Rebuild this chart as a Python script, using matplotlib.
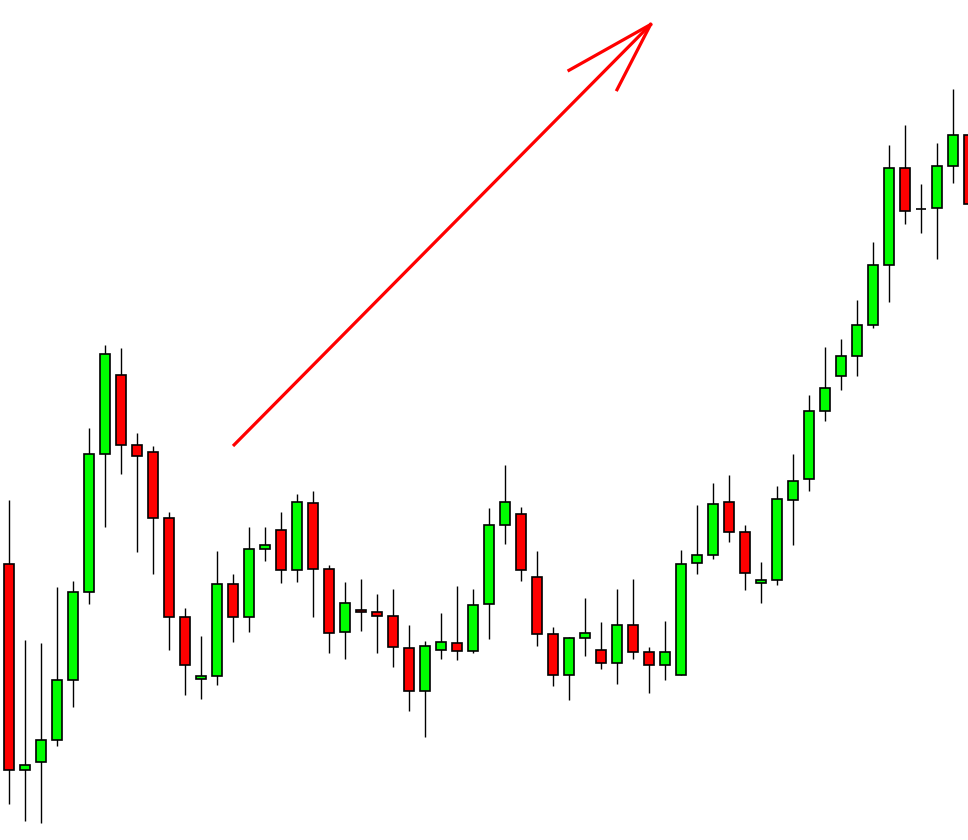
import numpy as np
import matplotlib
matplotlib.use("Agg")
import matplotlib.pyplot as plt

# candle values (arbitrary price units)
opens = [276, 70, 78, 100, 160, 248, 386, 465, 395, 388, 322, 223, 161, 164, 256, 223,
         291, 310, 270, 337, 271, 208, 230, 228, 224, 192, 149, 190, 197, 189, 236, 315,
         326, 263, 206, 165, 202, 190, 177, 215, 188, 175, 165, 277, 285, 338, 308, 257,
         260, 340, 361, 429, 464, 484, 515, 575, 672, 631, 632, 674, 705]
highs = [340, 200, 197, 253, 259, 412, 495, 492, 407, 394, 328, 232, 204, 289, 266, 313,
         313, 328, 346, 349, 275, 258, 261, 246, 251, 215, 199, 227, 254, 251, 332, 375,
         333, 289, 213, 203, 242, 218, 251, 261, 193, 219, 290, 335, 357, 365, 315, 278,
         354, 386, 445, 493, 501, 540, 598, 695, 715, 656, 697, 751, 715]
lows = [36, 19, 17, 94, 133, 236, 313, 366, 288, 266, 190, 145, 141, 155, 198, 208,
        279, 257, 258, 223, 187, 181, 209, 187, 173, 129, 103, 181, 180, 187, 201, 296,
        259, 194, 154, 140, 184, 171, 156, 181, 147, 160, 165, 266, 281, 298, 250, 237,
        255, 295, 349, 419, 450, 464, 512, 538, 616, 607, 581, 657, 626]
closes = [70, 75, 100, 160, 248, 386, 486, 395, 384, 322, 223, 175, 164, 256, 223, 291,
          295, 270, 338, 271, 207, 237, 228, 224, 193, 149, 194, 198, 189, 235, 315, 338,
          270, 206, 165, 202, 207, 177, 215, 188, 175, 188, 276, 285, 336, 308, 267, 260,
          341, 359, 429, 452, 484, 515, 575, 672, 629, 631, 674, 705, 636]

# trend arrow: shaft start, tip, and the two barb ends (candle index, price)
arrow_start = (14.0, 394)
arrow_tip = (40.1, 815.5)
barb_left = (35.0, 769.7)
barb_right = (38.0, 750.3)

o = np.array(opens)
h = np.array(highs)
l = np.array(lows)
c = np.array(closes)
x = np.arange(len(o))

colors = np.where(c > o, '#00ff00', np.where(c < o, '#ff0000', 'black'))

fig = plt.figure(figsize=(9.68, 8.4), dpi=100)
ax = fig.add_axes([0, 0, 1, 1])

ax.vlines(x, l, h, color='black', linewidth=1.0, zorder=1)
ax.bar(x, np.abs(c - o), bottom=np.minimum(o, c), width=0.625,
       color=colors, edgecolor='black', linewidth=1.2, zorder=2)

red = '#ff0000'
ax.plot([arrow_start[0], arrow_tip[0]], [arrow_start[1], arrow_tip[1]], color=red, lw=2.3,
        solid_capstyle='butt')
ax.plot([barb_left[0], arrow_tip[0]], [barb_left[1], arrow_tip[1]], color=red, lw=2.3)
ax.plot([barb_right[0], arrow_tip[0]], [barb_right[1], arrow_tip[1]], color=red, lw=2.3)

ax.set_xlim(-0.5625, 59.9375)
ax.set_ylim(0, 840)
ax.axis('off')

fig.savefig('out.png', dpi=100, facecolor='white')
